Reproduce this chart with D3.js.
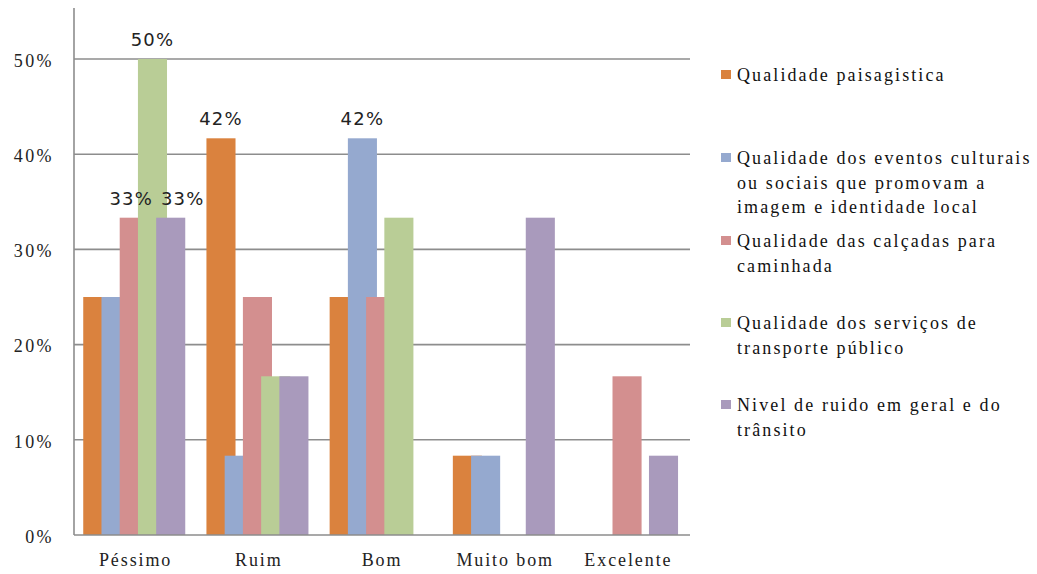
<!DOCTYPE html>
<html>
<head>
<meta charset="utf-8">
<script src="https://cdn.jsdelivr.net/npm/d3@7"></script>
<style>
  html, body { margin: 0; padding: 0; background: #fff; }
  svg { display: block; }
</style>
</head>
<body>
<svg id="chart" width="1037" height="574"></svg>
<script>
// Survey answers per rating category (share of respondents)
const categories = ["Péssimo", "Ruim", "Bom", "Muito bom", "Excelente"];
const seriesNames = [
  "Qualidade paisagistica",
  "Qualidade dos eventos culturais ou sociais que promovam a imagem e identidade local",
  "Qualidade das calçadas para caminhada",
  "Qualidade dos serviços de transporte público",
  "Nivel de ruido em geral e do trânsito"
];
const paisagistica = [0.25, 0.4167, 0.25, 0.0833, 0];
const eventos      = [0.25, 0.0833, 0.4167, 0.0833, 0];
const calcadas     = [0.3333, 0.25, 0.25, 0, 0.1667];
const transporte   = [0.50, 0.1667, 0.3333, 0, 0];
const ruido        = [0.3333, 0.1667, 0, 0.3333, 0.0833];
const seriesValues = [paisagistica, eventos, calcadas, transporte, ruido];

// Legend text, wrapped as shown
const legendLines = [
  ["Qualidade paisagistica"],
  ["Qualidade dos eventos culturais", "ou sociais que promovam a", "imagem e identidade local"],
  ["Qualidade das calçadas para", "caminhada"],
  ["Qualidade dos serviços de", "transporte público"],
  ["Nivel de ruido em geral e do", "trânsito"]
];
const yTicks = [0, 0.1, 0.2, 0.3, 0.4, 0.5];
// Bars carrying a value label: [series index, category index]
const labelled = [[3, 0], [2, 0], [4, 0], [0, 1], [1, 2]];

const colors = ["#da823e", "#95a9cf", "#d38f8f", "#b9cd96", "#a99abc"];
const serif = "'Liberation Serif', 'DejaVu Serif', serif";
const sans = "'DejaVu Sans', sans-serif";

const svg = d3.select("#chart");
const plotLeft = 74, plotRight = 690, plotBottom = 535, plotTop = 59;

const x = d3.scaleBand().domain(categories).range([plotLeft, plotRight]);
const y = d3.scaleLinear().domain([0, 0.5]).range([plotBottom, plotTop]);

// Bars of a group overlap: each bar is wider than the offset to the next one
const bw = x.bandwidth();
const barWidth = bw * 0.236;
const xs = d3.scalePoint().domain(d3.range(seriesNames.length))
  .range([bw * 0.075, bw * 0.075 + bw * 0.148 * 4]);

// Gridlines
svg.append("g")
  .selectAll("line").data(yTicks.filter(d => d > 0)).join("line")
  .attr("x1", plotLeft).attr("x2", plotRight)
  .attr("y1", d => y(d)).attr("y2", d => y(d))
  .attr("stroke", "#8d8d8d").attr("stroke-width", 1.6);

// Bars, one series after the other so later series sit on top
seriesValues.forEach((vals, si) => {
  svg.append("g")
    .selectAll("rect").data(vals.map((v, ci) => ({ v, c: categories[ci] })).filter(d => d.v > 0))
    .join("rect")
    .attr("x", d => x(d.c) + xs(si))
    .attr("width", barWidth)
    .attr("y", d => y(d.v))
    .attr("height", d => y(0) - y(d.v))
    .attr("fill", colors[si]);
});

// Axis lines
svg.append("line").attr("x1", plotLeft).attr("x2", plotLeft).attr("y1", 8).attr("y2", plotBottom)
  .attr("stroke", "#8d8d8d").attr("stroke-width", 1.6);
svg.append("line").attr("x1", plotLeft).attr("x2", plotRight).attr("y1", plotBottom).attr("y2", plotBottom)
  .attr("stroke", "#8d8d8d").attr("stroke-width", 1.6);

// Y axis tick labels
const yAxis = d3.axisLeft(y).tickValues(yTicks).tickFormat(d3.format(".0%")).tickSize(0).tickPadding(20);
const gy = svg.append("g").attr("transform", `translate(${plotLeft},0)`).call(yAxis);
gy.select(".domain").remove();
gy.selectAll("text")
  .style("font-family", serif)
  .style("font-size", "18px").style("letter-spacing", "2.4px")
  .attr("fill", "#222").attr("dy", "0.4em");

// X axis category labels
const xAxis = d3.axisBottom(x).tickSize(0).tickPadding(18);
const gx = svg.append("g").attr("transform", `translate(0,${plotBottom})`).call(xAxis);
gx.select(".domain").remove();
gx.selectAll("text")
  .style("font-family", serif)
  .style("font-size", "18px").style("letter-spacing", "1.9px")
  .attr("fill", "#222");

// Value labels above selected bars; the two 33% labels are pushed apart
const nudge = { "2,0": -3, "4,0": 12 };
svg.append("g")
  .selectAll("text").data(labelled).join("text")
  .style("font-family", sans)
  .style("font-size", "18px").style("letter-spacing", "1.2px")
  .attr("x", ([si, ci]) => x(categories[ci]) + xs(si) + barWidth / 2 + (nudge[si + "," + ci] || 0))
  .attr("y", ([si, ci]) => y(seriesValues[si][ci]) - 13)
  .attr("text-anchor", "middle")
  .attr("fill", "#222")
  .text(([si, ci]) => d3.format(".0%")(seriesValues[si][ci]));

// Legend
const legendTops = [75, 158, 241, 323, 405];
const lg = svg.append("g");
legendLines.forEach((lines, i) => {
  const g = lg.append("g").attr("transform", `translate(721,${legendTops[i]})`);
  g.append("rect").attr("x", 0).attr("y", -5).attr("width", 10).attr("height", 9).attr("fill", colors[i]);
  g.selectAll("text").data(lines).join("text")
    .style("font-family", serif)
    .style("font-size", "18px").style("letter-spacing", "2.1px")
    .attr("x", 16).attr("y", (d, k) => k * 24.5 + 6)
    .attr("fill", "#111")
    .text(d => d);
});
</script>
</body>
</html>
